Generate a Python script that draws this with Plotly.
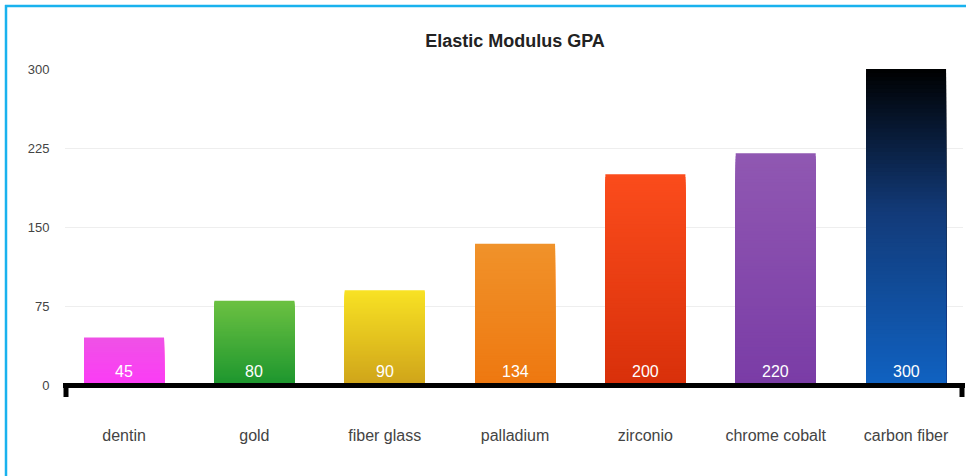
import plotly.graph_objects as go

# ---- data ----
categories = ["dentin", "gold", "fiber glass", "palladium", "zirconio", "chrome cobalt", "carbon fiber"]
values = [45, 80, 90, 134, 200, 220, 300]
y_ticks = [0, 75, 150, 225, 300]
title_text = "Elastic Modulus GPA"

# gradient stops per bar: (position 0=bottom .. 1=top, colour)
gradients = [
    [(0, "#fc3cf6"), (1, "#ef52e6")],
    [(0, "#1c962e"), (1, "#6cc142")],
    [(0, "#cfa41a"), (1, "#f8e224")],
    [(0, "#ee7810"), (1, "#f0922a")],
    [(0, "#d8300a"), (1, "#fb4c1c")],
    [(0, "#7a3ca6"), (1, "#9058b2")],
    [(0, "#1062c2"), (0.55, "#123a78"), (1, "#000000")],
]

W, H = 966, 476
ML, MR, MT, MB = 65, 3, 69, 91
PW, PH = W - ML - MR, H - MT - MB
BAR_W = 0.614


def hex2rgb(h):
    h = h.lstrip("#")
    return tuple(int(h[i:i + 2], 16) for i in (0, 2, 4))


def color_at(stops, t):
    for (p0, c0), (p1, c1) in zip(stops[:-1], stops[1:]):
        if p0 <= t <= p1:
            f = 0 if p1 == p0 else (t - p0) / (p1 - p0)
            a, b = hex2rgb(c0), hex2rgb(c1)
            return "rgb(%d,%d,%d)" % tuple(round(a[k] + (b[k] - a[k]) * f) for k in range(3))
    return stops[-1][1]


# gradient built as nested bars from zero: tallest first, shorter ones drawn on top
N = 80
gx, gy, gcol = [], [], []
for cat, v, stops in zip(categories, values, gradients):
    for k in range(N - 1, -1, -1):
        gx.append(cat)
        gy.append(v * (k + 1) / N)
        gcol.append(color_at(stops, (k + 0.5) / N))

fig = go.Figure()
fig.add_trace(go.Bar(
    x=gx, y=gy, width=BAR_W,
    marker=dict(color=gcol, line=dict(width=0)),
    hoverinfo="skip", showlegend=False,
))
fig.add_trace(go.Bar(
    x=categories, y=values, width=BAR_W,
    marker=dict(color="rgba(0,0,0,0)", line=dict(width=0)),
    showlegend=False,
))

font_fam = "Liberation Sans, Arial, sans-serif"

annotations = [
    dict(x=cat, y=0, xref="x", yref="y", text=str(v), showarrow=False,
         yanchor="middle", yshift=14,
         font=dict(color="white", size=16, family=font_fam))
    for cat, v in zip(categories, values)
]


def px_x(p):
    return (p - ML) / PW


def px_y(p):
    return (H - MB - p) / PH


blue = "#19b2ee"
shapes = [
    # outer frame (left and top)
    dict(type="line", xref="paper", yref="paper", x0=px_x(6), x1=px_x(6), y0=px_y(5), y1=px_y(H + 5),
         line=dict(color=blue, width=2.5)),
    dict(type="line", xref="paper", yref="paper", x0=px_x(5), x1=px_x(W + 5), y0=px_y(6), y1=px_y(6),
         line=dict(color=blue, width=2.5)),
    # thick x axis baseline
    dict(type="line", xref="paper", yref="paper", x0=px_x(63), x1=px_x(965), y0=px_y(385.5), y1=px_y(385.5),
         line=dict(color="black", width=5)),
    # end ticks on x axis
    dict(type="line", xref="paper", yref="paper", x0=px_x(66), x1=px_x(66), y0=px_y(384), y1=px_y(397),
         line=dict(color="black", width=5)),
    dict(type="line", xref="paper", yref="paper", x0=px_x(962), x1=px_x(962), y0=px_y(384), y1=px_y(397),
         line=dict(color="black", width=5)),
]

fig.update_layout(
    width=W, height=H,
    margin=dict(l=ML, r=MR, t=MT, b=MB, pad=0),
    paper_bgcolor="white", plot_bgcolor="white",
    barmode="overlay",
    title=dict(text="<b>" + title_text + "</b>", x=515 / W, xanchor="center",
               y=1 - 41 / H, yanchor="middle",
               font=dict(size=18, color="#222", family=font_fam)),
    xaxis=dict(
        type="category", categoryorder="array", categoryarray=categories,
        range=[-0.453, 6.437],
        showline=False,
        ticks="outside", ticklen=36, tickcolor="rgba(0,0,0,0)",
        tickfont=dict(size=16, color="#444", family=font_fam),
        showgrid=False, zeroline=False, fixedrange=True,
    ),
    yaxis=dict(
        range=[0, 300], tickvals=y_ticks, ticktext=[str(t) for t in y_ticks],
        showgrid=True, gridcolor="#eeeeee", gridwidth=1,
        zeroline=False, showline=False,
        ticks="outside", ticklen=12, tickcolor="rgba(0,0,0,0)",
        tickfont=dict(size=13, color="#444", family=font_fam),
        fixedrange=True,
    ),
    annotations=annotations,
    shapes=shapes,
)

fig.write_html("out.html", config={"displayModeBar": False})
